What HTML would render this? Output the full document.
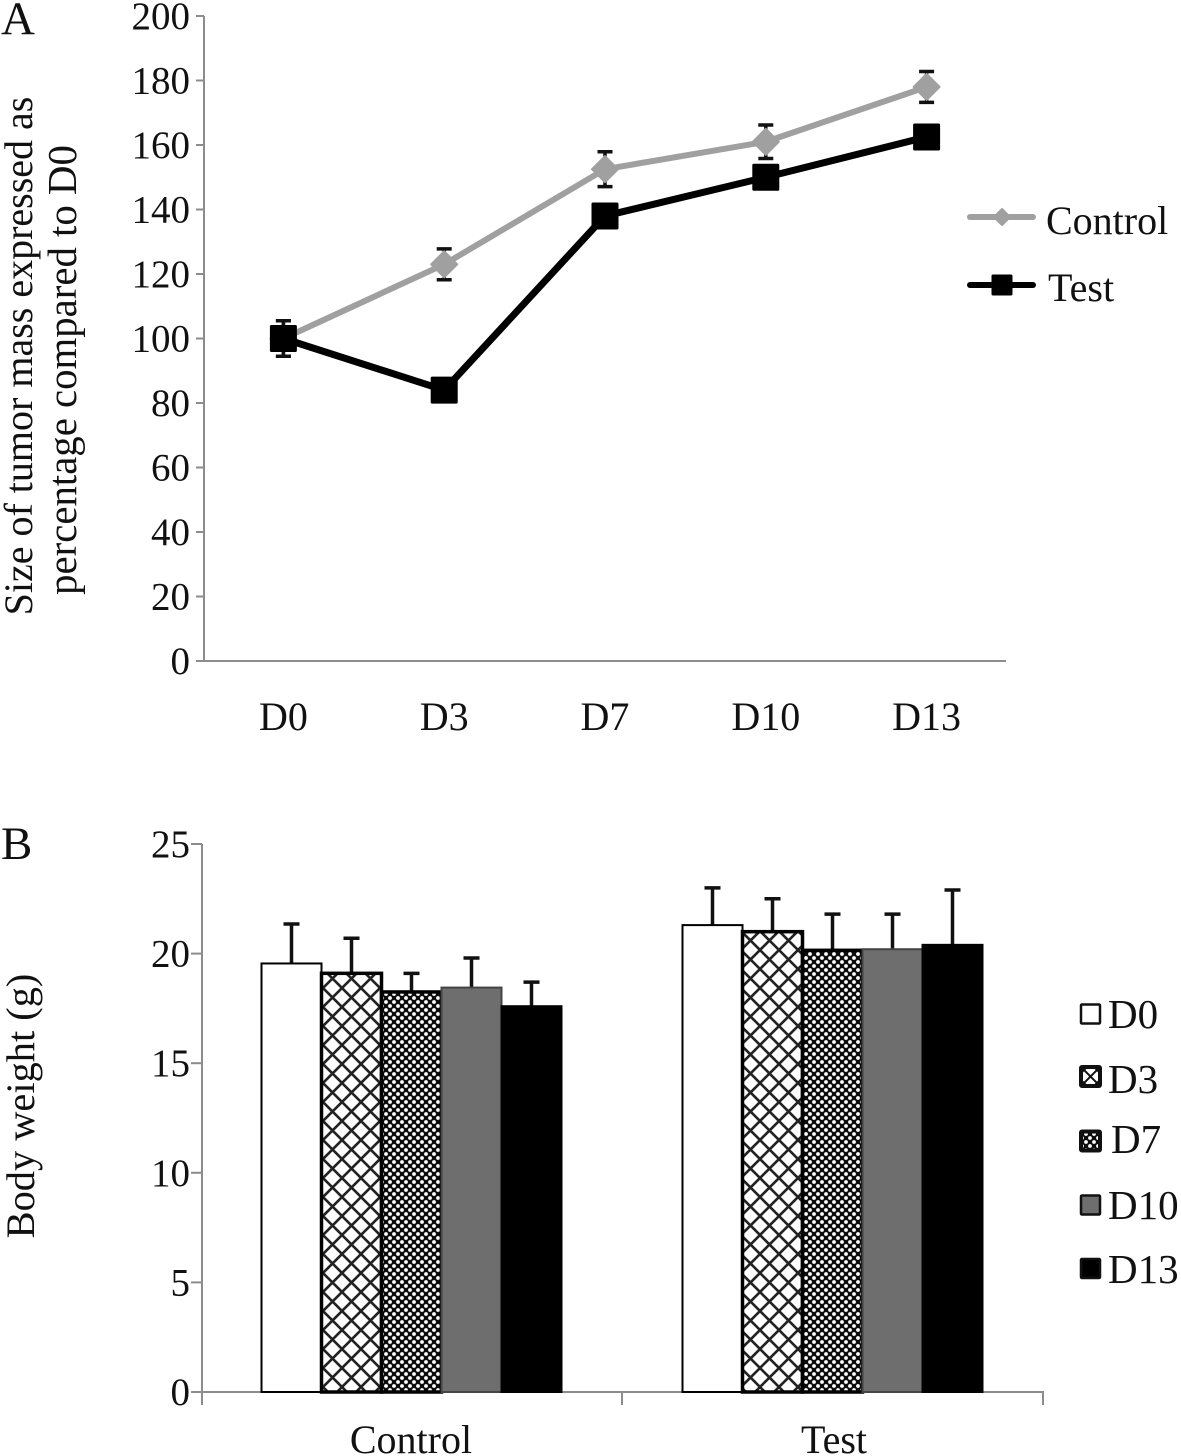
<!DOCTYPE html>
<html lang="en">
<head>
<meta charset="utf-8">
<title>Tumor mass and body weight</title>
<style>
html,body{margin:0;padding:0;background:#fff;width:1181px;height:1456px;overflow:hidden}
svg{display:block}
text{font-family:"Liberation Serif",serif;fill:#111}
</style>
</head>
<body>
<svg id="fig" xmlns="http://www.w3.org/2000/svg" width="1181" height="1456" viewBox="0 0 1181 1456">
<defs>
<pattern id="hatch-wide" patternUnits="userSpaceOnUse" width="19" height="19">
<rect width="19" height="19" fill="#fff"/>
<path d="M-2 2L2 -2M0 19L19 0M17 21L21 17M-2 17L2 21M0 0L19 19M17 -2L21 2" stroke="#222" stroke-width="2.6"/>
</pattern>
<pattern id="hatch-fine" patternUnits="userSpaceOnUse" width="8" height="8">
<rect width="8" height="8" fill="#0c0c0c"/>
<circle cx="2" cy="2" r="1.9" fill="#fff"/>
<circle cx="6" cy="6" r="1.9" fill="#fff"/>
</pattern>
<pattern id="legend-wide" patternUnits="userSpaceOnUse" width="13" height="13" x="1084" y="1070">
<rect width="13" height="13" fill="#fff"/>
<path d="M0 0L13 13M0 13L13 0" stroke="#111" stroke-width="2"/>
</pattern>
</defs>
<text x="1" y="34" font-size="47">A</text>
<text x="1" y="859" font-size="47">B</text>
<g id="chartA"></g>
<g id="chartB"></g>
</svg>
<script>
// Panel A data
const lineCategories = ['D0', 'D3', 'D7', 'D10', 'D13'];
const controlValues = [100, 123, 152.5, 161, 178];
const controlErrors = [5.5, 4.8, 5.4, 5.2, 4.8];
const testValues = [100, 84, 138, 150, 162.5];
const testErrors = [5.5, 3, 3, 3, 3];
const lineTicks = [0, 20, 40, 60, 80, 100, 120, 140, 160, 180, 200];

// Panel B data
const barGroups = ['Control', 'Test'];
const barSeries = ['D0', 'D3', 'D7', 'D10', 'D13'];
const barControlValues = [19.55, 19.1, 18.25, 18.45, 17.6];
const barControlErrors = [1.8, 1.6, 0.85, 1.35, 1.1];
const barTestValues = [21.3, 21.0, 20.15, 20.2, 20.4];
const barTestErrors = [1.7, 1.5, 1.65, 1.6, 2.5];
const barTicks = [0, 5, 10, 15, 20, 25];

const NS = 'http://www.w3.org/2000/svg';
function mk(parent, tag, attrs, txt) {
  const el = document.createElementNS(NS, tag);
  for (const k in attrs) el.setAttribute(k, attrs[k]);
  if (txt !== undefined) el.textContent = txt;
  parent.appendChild(el);
  return el;
}
function nm(el, name) {
  
  
  return el;
}

/* ---------- Panel A ---------- */
const A = document.getElementById('chartA');
const aL = 204, aR = 1006, aT = 16, aB = 661;
const ay = v => aB - (v / 200) * (aB - aT);
const ax = i => aL - 1 + 804 * (i + 0.5) / lineCategories.length;
const axisGrey = '#8c8c8c';

nm(mk(A, 'line', {x1: aL, y1: aT, x2: aL, y2: aB, stroke: axisGrey, 'stroke-width': 2}), 'y-axis-a');
nm(mk(A, 'line', {x1: aL, y1: aB, x2: aR, y2: aB, stroke: axisGrey, 'stroke-width': 2}), 'x-axis-a');
lineTicks.forEach(t => {
  nm(mk(A, 'line', {x1: aL - 8, y1: ay(t), x2: aL, y2: ay(t), stroke: axisGrey, 'stroke-width': 2}), 'y-tick-a-' + t);
  nm(mk(A, 'text', {x: 190, y: ay(t) + 13, 'font-size': 39, 'text-anchor': 'end'}, t), 'y-tick-label-a-' + t);
});
lineCategories.forEach((c, i) => {
  nm(mk(A, 'text', {x: ax(i), y: 730, 'font-size': 40, 'text-anchor': 'middle'}, c), 'x-tick-label-' + c.toLowerCase());
});
nm(mk(A, 'text', {transform: 'translate(32,356) rotate(-90)', 'font-size': 40, 'text-anchor': 'middle'}, 'Size of tumor mass expressed as'), 'y-axis-title-line-1');
nm(mk(A, 'text', {transform: 'translate(76,370) rotate(-90)', 'font-size': 40.8, 'text-anchor': 'middle'}, 'percentage compared to D0'), 'y-axis-title-line-2');

function drawSeries(values, errors, color, width, key, marker) {
  const g = nm(mk(A, 'g', {}), key + '-series');
  values.forEach((v, i) => {
    const x = ax(i);
    const t = ay(v + errors[i]), b = ay(v - errors[i]);
    nm(mk(g, 'path', {
      d: `M${x - 7.5} ${t}H${x + 7.5}M${x} ${t}V${b}M${x - 7.5} ${b}H${x + 7.5}`,
      stroke: '#111', 'stroke-width': 3.5, fill: 'none'
    }), key + '-error-' + lineCategories[i].toLowerCase());
  });
  const pts = values.map((v, i) => ax(i) + ',' + ay(v)).join(' ');
  nm(mk(g, 'polyline', {points: pts, fill: 'none', stroke: color, 'stroke-width': width}), key + '-line');
  values.forEach((v, i) => {
    marker(g, ax(i), ay(v), key + '-point-' + lineCategories[i].toLowerCase());
  });
}
const diamond = (g, x, y, name, r = 13) => nm(mk(g, 'path', {
  d: `M${x} ${y - r}L${x + r} ${y}L${x} ${y + r}L${x - r} ${y}Z`,
  fill: '#a0a0a0', stroke: '#a0a0a0', 'stroke-width': 2, 'stroke-linejoin': 'round'
}), name);
const square = (g, x, y, name, s = 27) => nm(mk(g, 'rect', {
  x: x - s / 2, y: y - s / 2, width: s, height: s, rx: 1.5, fill: '#000'
}), name);
drawSeries(controlValues, controlErrors, '#a0a0a0', 6, 'control', diamond);
drawSeries(testValues, testErrors, '#000', 7, 'test', square);

const legA = nm(mk(A, 'g', {}), 'line-legend');
nm(mk(legA, 'line', {x1: 970, y1: 217, x2: 1033, y2: 217, stroke: '#a0a0a0', 'stroke-width': 6, 'stroke-linecap': 'round'}), 'legend-control-line');
diamond(legA, 1002, 217, 'legend-control-marker', 8);
nm(mk(legA, 'text', {x: 1046, y: 234, 'font-size': 40}, 'Control'), 'legend-control-label');
nm(mk(legA, 'line', {x1: 970, y1: 285, x2: 1033, y2: 285, stroke: '#000', 'stroke-width': 6, 'stroke-linecap': 'round'}), 'legend-test-line');
square(legA, 1002, 285, 'legend-test-marker', 21);
nm(mk(legA, 'text', {x: 1048, y: 301, 'font-size': 40}, 'Test'), 'legend-test-label');

/* ---------- Panel B ---------- */
const B = document.getElementById('chartB');
const bL = 202, bR = 1044, bT = 844, bB = 1392;
const by = v => bB - (v / 25) * (bB - bT);
const groupW = (bR - bL) / barGroups.length;
const barW = 60;
const bx = (g, s) => bL + groupW * (g + 0.5) - barW * barSeries.length / 2 + s * barW - 1;
const fills = ['#fff', 'url(#hatch-wide)', 'url(#hatch-fine)', '#6e6e6e', '#000'];

nm(mk(B, 'text', {transform: 'translate(34,1106) rotate(-90)', 'font-size': 40.4, 'text-anchor': 'middle'}, 'Body weight (g)'), 'y-axis-title-b');
nm(mk(B, 'line', {x1: bL, y1: bT, x2: bL, y2: bB + 13, stroke: axisGrey, 'stroke-width': 2}), 'y-axis-b');
nm(mk(B, 'line', {x1: bL, y1: bB, x2: bR, y2: bB, stroke: axisGrey, 'stroke-width': 2}), 'x-axis-b');
barTicks.forEach(t => {
  nm(mk(B, 'line', {x1: bL - 11, y1: by(t), x2: bL, y2: by(t), stroke: axisGrey, 'stroke-width': 2}), 'y-tick-b-' + t);
  nm(mk(B, 'text', {x: 190, y: by(t) + 13, 'font-size': 39, 'text-anchor': 'end'}, t), 'y-tick-label-b-' + t);
});
barGroups.forEach((_, i) => {
  const x = bL + groupW * (i + 1) - 1;
  nm(mk(B, 'line', {x1: x, y1: bB, x2: x, y2: bB + 13, stroke: axisGrey, 'stroke-width': 2}), 'x-tick-b-' + i);
});
barGroups.forEach((name, g) => {
  const vals = g === 0 ? barControlValues : barTestValues;
  const errs = g === 0 ? barControlErrors : barTestErrors;
  const grp = nm(mk(B, 'g', {}), name.toLowerCase() + '-bars');
  vals.forEach((v, s) => {
    const x = bx(g, s), cx = x + barW / 2;
    const top = by(v + errs[s]);
    nm(mk(grp, 'path', {
      d: `M${cx - 8} ${top}H${cx + 8}M${cx} ${top}V${by(v)}`,
      stroke: '#111', 'stroke-width': 3.5, fill: 'none'
    }), name.toLowerCase() + '-error-' + barSeries[s].toLowerCase());
  });
  vals.forEach((v, s) => {
    const heavy = s === 1 || s === 2;
    nm(mk(grp, 'rect', {
      x: bx(g, s), y: by(v), width: barW, height: bB - by(v),
      fill: fills[s], stroke: s === 3 ? '#444' : '#000', 'stroke-width': heavy ? 3.5 : 2
    }), name.toLowerCase() + '-bar-' + barSeries[s].toLowerCase());
  });
  nm(mk(B, 'text', {x: g === 0 ? 411 : 834, y: 1453, 'font-size': 40, 'text-anchor': 'middle'}, name), 'x-tick-label-' + name.toLowerCase());
});

const legendSwatchCenters = [1014, 1076.5, 1141, 1205, 1268.5];
const legendBaselines = [1028, 1093, 1153, 1219, 1283];
const legendFills = ['#fff', 'url(#legend-wide)', 'url(#hatch-fine)', '#6e6e6e', '#000'];
const legB = nm(mk(B, 'g', {}), 'bar-legend');
barSeries.forEach((s, i) => {
  nm(mk(legB, 'rect', {
    x: 1081, y: legendSwatchCenters[i] - 9.5, width: 19, height: 19, rx: 1, fill: legendFills[i],
    stroke: '#111', 'stroke-width': i === 1 || i === 2 ? 4 : 2.5
  }), 'legend-swatch-' + s.toLowerCase());
  nm(mk(legB, 'text', {x: i === 2 ? 1111 : 1108, y: legendBaselines[i], 'font-size': 41}, s), 'legend-label-' + s.toLowerCase());
});
</script>
</body>
</html>
